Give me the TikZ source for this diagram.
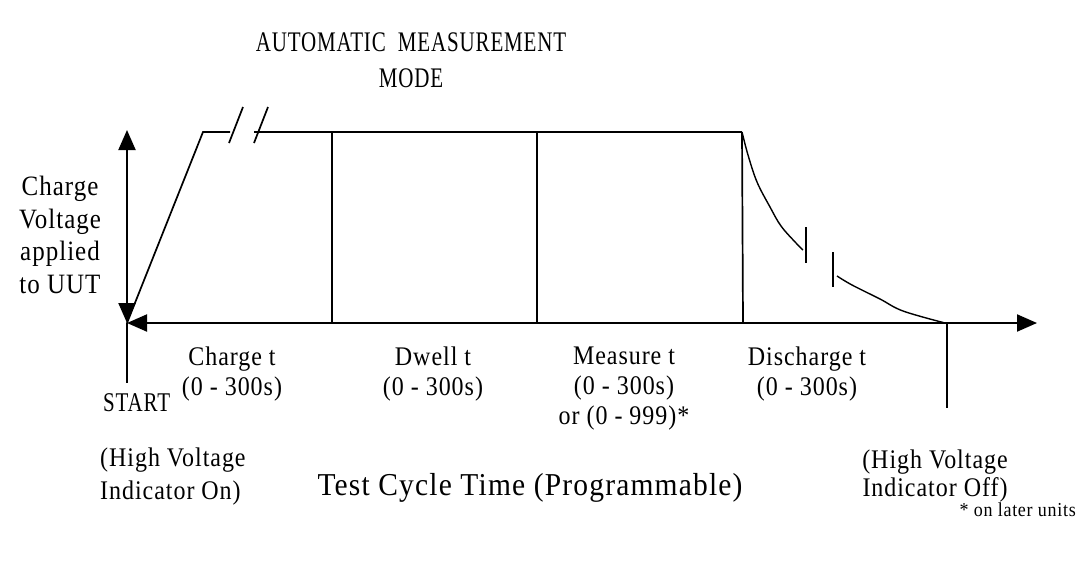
\documentclass[tikz,border=0pt]{standalone}
\usepackage{fontspec}
\setmainfont{Liberation Serif}[LetterSpace=4]
\usetikzlibrary{arrows.meta}
\begin{document}
\begin{tikzpicture}[x=1pt,y=-1pt,
  axis/.style={line width=2pt,{Triangle[length=20pt,width=17pt]}-{Triangle[length=20pt,width=17pt]}},
  ln/.style={line width=1.7pt},
  thin/.style={line width=1.4pt},
  lbl/.style={align=center,inner sep=0pt,yscale=1.12,font=\fontsize{24}{26.8}\selectfont},
  ttl/.style={align=center,inner sep=0pt,yscale=1.35,font=\fontsize{21}{26.7}\selectfont},
  big/.style={align=center,inner sep=0pt,yscale=1.08,font=\fontsize{29.5}{33}\selectfont},
  small/.style={inner sep=0pt,yscale=1.1,font=\fontsize{18}{20}\selectfont}]
\useasboundingbox (0,0) rectangle (1086,573);
% key points
\coordinate (O) at (127,323);
\coordinate (Ytop) at (127,130);
\coordinate (Ybot) at (127,383);
\coordinate (Xend) at (1037,323);
\coordinate (R1) at (203,132);
\coordinate (B1) at (230,132);
\coordinate (B2) at (254,132);
\coordinate (T1) at (332,132);
\coordinate (T2) at (537,132);
\coordinate (T3) at (742,132);
\coordinate (A1) at (332,323);
\coordinate (A2) at (537,323);
\coordinate (A3) at (743,323);
\coordinate (E) at (947,323);
\coordinate (Eb) at (947,408);
% axes
\draw[axis] (Ytop) -- (O);
\draw[ln] (O) -- (Ybot);
\draw[axis] (O) -- (Xend);
% waveform
\draw[ln] (O) -- (R1) -- (B1);
\draw[ln] (B2) -- (T3);
\draw[ln] (229,143) -- (243,107);
\draw[ln] (254,143) -- (268,107);
\draw[ln] (T1) -- (A1);
\draw[ln] (T2) -- (A2);
\draw[ln] (T3) -- (A3);
\draw[thin] plot[smooth,tension=0.6] coordinates {(742,132) (748,155) (757,182) (770,207) (781,226) (796,243) (803,250)};
\draw[ln] (806,227) -- (806,263);
\draw[ln] (833,252) -- (833,287);
\draw[thin] plot[smooth,tension=0.6] coordinates {(837,276) (852,285) (880,299) (903,311) (945,323)};
\draw[ln] (E) -- (Eb);
% texts
\node[ttl] (title) at (411,60) {AUTOMATIC\ \ MEASUREMENT\\MODE};
\node[lbl,yscale=1.0,font=\fontsize{25}{29}\selectfont] (ylab) at (60,235) {Charge\\Voltage\\applied\\to UUT};
\node[lbl] (charge) at (232,374) {Charge t\\(0 - 300s)};
\node[lbl] (dwell) at (433,374) {Dwell t\\(0 - 300s)};
\node[lbl] (measure) at (624,389) {Measure t\\(0 - 300s)\\or (0 - 999)*};
\node[lbl,anchor=west,yscale=1.15,font=\fontsize{21}{24}\selectfont] (start) at (103,403) {START};
\node[lbl,align=left,anchor=west,font=\fontsize{24}{29.5}\selectfont] (hvon) at (100,477) {(High Voltage\\Indicator On)};
\node[big] (tct) at (530,488) {Test Cycle Time (Programmable)};
\node[lbl] (dis) at (807,374) {Discharge t\\(0 - 300s)};
\node[lbl,font=\fontsize{24}{25.5}\selectfont] (hvoff) at (935,476) {(High Voltage\\Indicator Off)};
\node[small,anchor=east] (later) at (1076,510) {* on later units};
\end{tikzpicture}
\end{document}
